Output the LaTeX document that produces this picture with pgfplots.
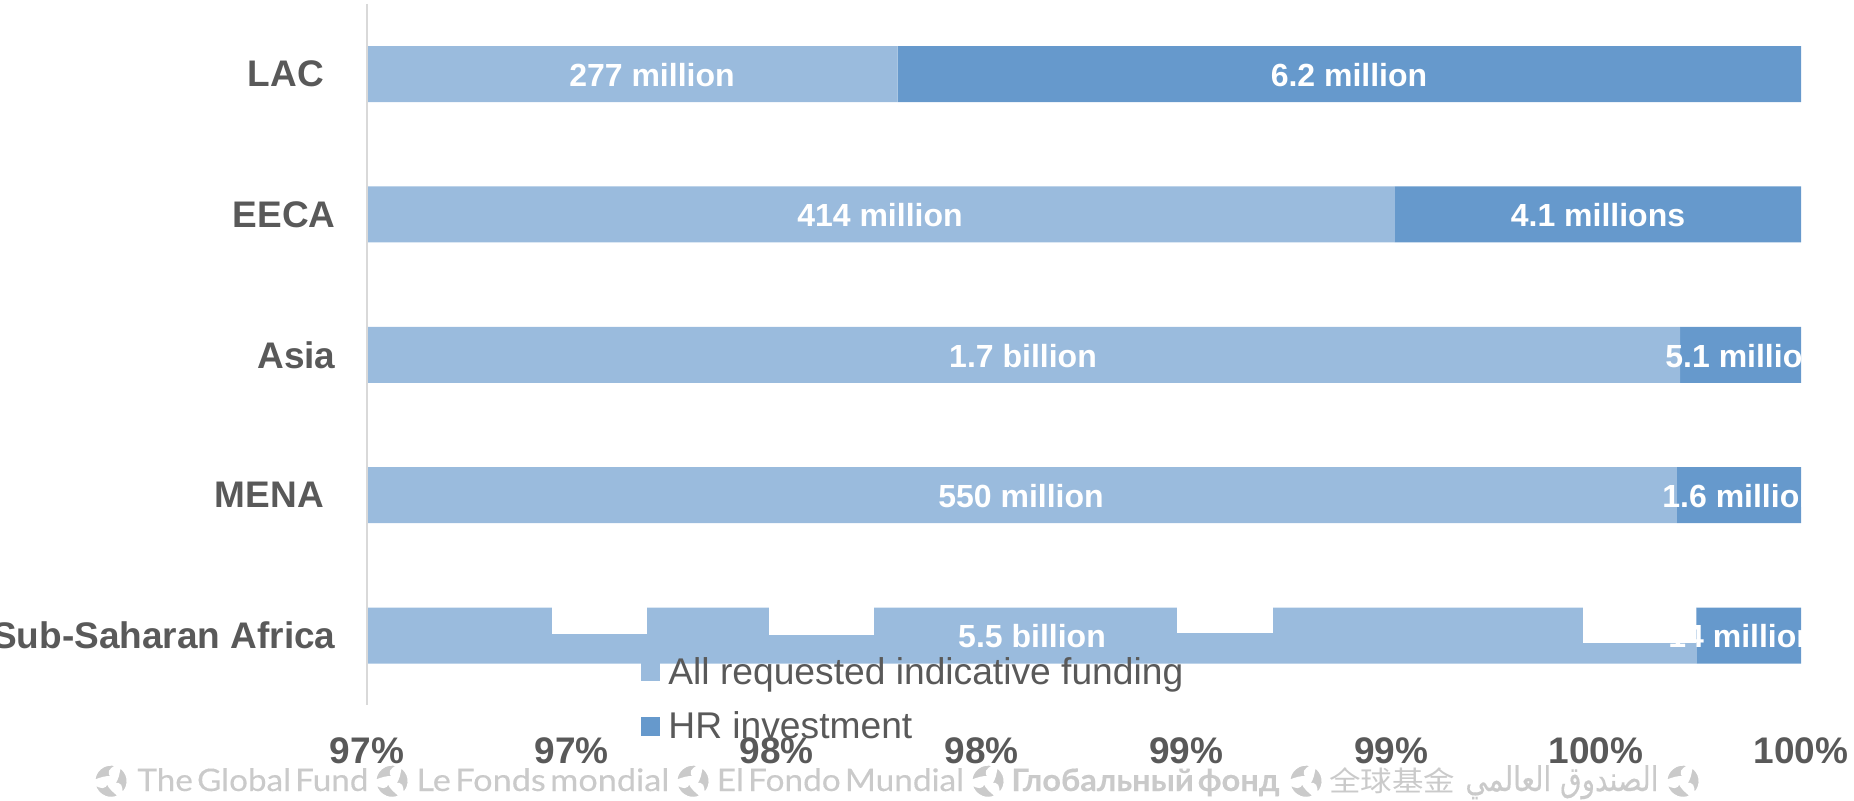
\documentclass[border=0pt]{standalone}
\usepackage{pgfplots}
\pgfplotsset{compat=1.18}
\usepackage{pgfplotstable}
\usepackage{fontspec}
\setmainfont{Liberation Sans}
\newfontfamily\wordfont[WordSpace=0.5,FakeBold=0.25]{Lato}
\newfontfamily\cjkfont{Noto Sans CJK SC}
\newfontfamily\arabicfont[Script=Arabic,FakeBold=0.3]{DejaVu Sans}
\TeXXeTstate=1
\definecolor{barlight}{HTML}{9ABBDD}
\definecolor{bardark}{HTML}{6699CC}
\definecolor{labelgrey}{HTML}{595959}
\definecolor{wordgrey}{HTML}{CACACA}
\definecolor{axisgrey}{HTML}{D9D9D9}

% Share of each region's request, on a 96.5--100 axis; row 0 is the bottom bar
\pgfplotstableread{
row total hr
0 99.746 0.254
1 99.697 0.303
2 99.705 0.295
3 99.009 0.991
4 97.795 2.205
}\sharetable

% Swirl emblem of the wordmark, centred at x = #1 on the footer line
\newcommand{\swirl}[1]{%
  \begin{scope}[shift={(#1*0.5pt,9.4pt)},x=0.5pt,y=0.5pt]
    \foreach \turn in {0,120,240}{
      \filldraw[wordgrey,draw=white,line width=0.9pt,rotate=\turn] (70:16.5) arc (70:178:16.5)
        .. controls (-10,3) and (-5,5) .. (1,4)
        .. controls (-4,9) and (-1,12) .. cycle;
    }
  \end{scope}}

% Footer wordmark: left edge, width and text, in the footer's pixel grid
\newcommand{\wordmark}[3]{%
  \node[anchor=base west,inner sep=0pt,text=wordgrey] at (#1,791)
    {\resizebox{\dimexpr #2pt/2\relax}{\height}{\fontsize{15.5}{17}\selectfont #3}};}

% White data label: position, anchor and text
\newcommand{\barlabel}[3]{%
  \node[anchor=#2,inner sep=0pt,text=white,font=\bfseries\fontsize{16}{18}\selectfont] at (#1) {#3};}

\begin{document}
\begin{tikzpicture}
\useasboundingbox (0,0) rectangle (927pt,400pt);
\begin{axis}[
  at={(183.5pt,47.1pt)}, anchor=south west,
  scale only axis, width=717pt, height=351pt,
  xbar stacked, bar width=28pt,
  xmin=96.5, xmax=100, ymin=-0.5, ymax=4.5,
  xtick={96.5,97,97.5,98,98.5,99,99.5,100},
  xticklabels={97\%,97\%,98\%,98\%,99\%,99\%,100\%,100\%},
  ytick={0,1,2,3,4},
  yticklabels={Sub-Saharan Africa,MENA\hspace*{5.9pt},Asia,EECA,LAC\hspace*{5.9pt}},
  tick style={draw=none},
  axis line style={draw=none},
  tick label style={font=\bfseries\fontsize{18.5}{20}\selectfont, text=labelgrey},
  yticklabel style={xshift=-12.2pt},
  xticklabel style={yshift=-12.3pt},
]
\addplot[fill=barlight,draw=none] table[x=total,y=row] {\sharetable};
\addplot[fill=bardark,draw=none] table[x=hr,y=row] {\sharetable};
\end{axis}

% Annotations on a grid of half points, measured from the top left
\begin{scope}[shift={(0,400pt)},x=0.5pt,y=-0.5pt]
  \draw[axisgrey,line width=1pt] (367,4) -- (367,705);

  % Notches along the top edge of the lowest bar
  \fill[white] (551.5,606) rectangle (647,633.7);
  \fill[white] (768.5,606) rectangle (874,635);
  \fill[white] (1177,606) rectangle (1273,632.7);
  \fill[white] (1583,606) rectangle (1696,642.7);

  % Data labels
  \barlabel{652,86.5}{base}{277 million}
  \barlabel{1349,86.5}{base}{6.2 million}
  \barlabel{880,226.5}{base}{414 million}
  \barlabel{1598,226.5}{base}{4.1 millions}
  \barlabel{1023,367}{base}{1.7 billion}
  \barlabel{1665,367}{base west}{5.1 million}
  \barlabel{1021,507}{base}{550 million}
  \barlabel{1662,507}{base west}{1.6 million}
  \barlabel{1032,647}{base}{5.5 billion}
  \barlabel{1668,647}{base west}{14 million}

  % Legend
  \fill[barlight] (641,662) rectangle (660,681);
  \fill[bardark] (641,717) rectangle (660,736);
  \node[anchor=base west,inner sep=0pt,text=labelgrey,font=\fontsize{18.6}{20}\selectfont] at (668,684) {All requested indicative funding};
  \node[anchor=base west,inner sep=0pt,text=labelgrey,font=\fontsize{18.6}{20}\selectfont] at (668,738) {HR investment};

  % Footer wordmarks
  \wordmark{137}{231}{\wordfont The Global Fund}
  \wordmark{416}{253}{\wordfont Le Fonds mondial}
  \wordmark{716.5}{247}{\wordfont El Fondo Mundial}
  \wordmark{1011}{268}{\wordfont\bfseries Глобальный фонд}
  \wordmark{1329}{126}{\fontsize{14}{16}\selectfont\cjkfont 全球基金}
  \wordmark{1465}{193}{\fontsize{17}{19}\selectfont\arabicfont\beginR الصندوق العالمي\endR}
\end{scope}
\swirl{111}
\swirl{392}
\swirl{693}
\swirl{988}
\swirl{1306}
\swirl{1683}
\end{tikzpicture}
\end{document}
